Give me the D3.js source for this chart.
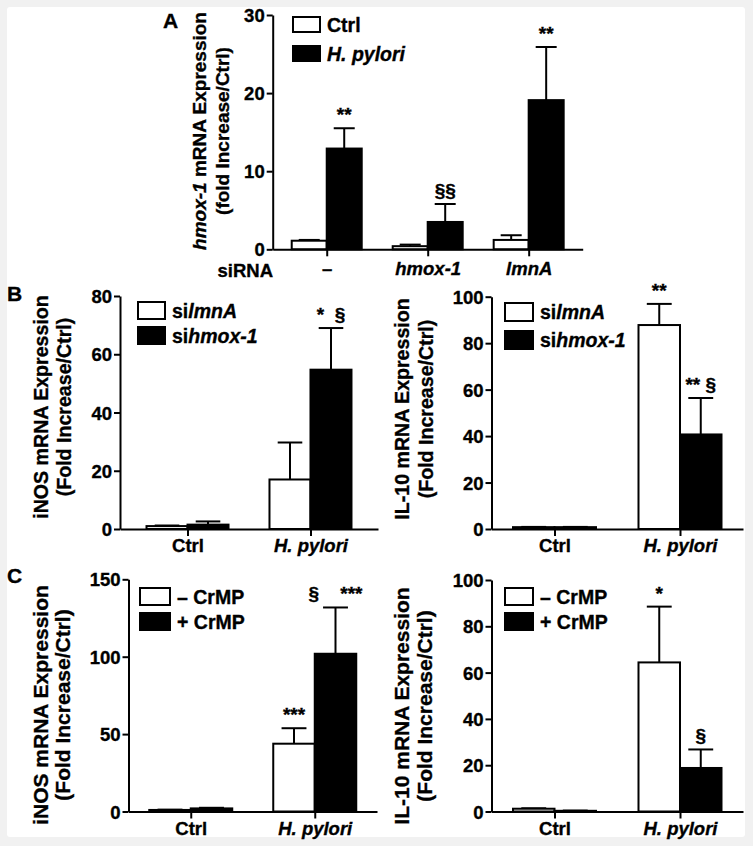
<!DOCTYPE html>
<html>
<head>
<meta charset="utf-8">
<script src="https://cdn.jsdelivr.net/npm/d3@7"></script>
<style>
  html, body { margin: 0; padding: 0; background: #f1f1f1; }
  svg { display: block; }
  text { font-family: 'Liberation Sans', Arial, Helvetica, sans-serif; font-weight: bold; fill: #000;
         stroke: #000; stroke-width: 0.35px; }
</style>
</head>
<body>
<svg id="chart" width="753" height="846"></svg>
<script>
// ---------------- DATA ----------------
// Panel A: hmox-1 mRNA expression by siRNA
const groupsA = ["\u2013", "hmox-1", "lmnA"];
const ctrlA = [1.1, 0.4, 1.2];
const ctrlA_sem = [0.1, 0.2, 0.6];
const hpyloriA = [12.9, 3.5, 19.1];
const hpyloriA_sem = [2.6, 2.3, 6.8];
const ticksA = [0, 10, 20, 30];

// Panels B and C: categories
const groupsBC = ["Ctrl", "H. pylori"];

// Panel B left: iNOS
const inosB_silmnA = [1.0, 17.0];
const inosB_silmnA_sem = [0.2, 12.7];
const inosB_sihmox = [1.5, 54.7];
const inosB_sihmox_sem = [1.1, 14.3];
const ticksInosB = [0, 20, 40, 60, 80];

// Panel B right: IL-10
const il10B_silmnA = [0.8, 87.8];
const il10B_silmnA_sem = [0.1, 9.1];
const il10B_sihmox = [0.8, 40.7];
const il10B_sihmox_sem = [0.1, 15.7];
const ticksIl10 = [0, 20, 40, 60, 80, 100];

// Panel C left: iNOS with/without CrMP
const inosC_minus = [1.0, 43.8];
const inosC_minus_sem = [0.2, 10.0];
const inosC_plus = [2.0, 101.9];
const inosC_plus_sem = [0.4, 29.9];
const ticksInosC = [0, 50, 100, 150];

// Panel C right: IL-10 with/without CrMP
const il10C_minus = [1.2, 64.4];
const il10C_minus_sem = [0.2, 24.1];
const il10C_plus = [0.3, 18.8];
const il10C_plus_sem = [0.1, 8.0];

// ---------------- DRAWING ----------------
const svg = d3.select("#chart");
svg.append("rect").attr("x", 7).attr("y", 7).attr("width", 738).attr("height", 830)
  .attr("rx", 3).attr("fill", "#ffffff");

const NB = "\u00a0";

function italicLabel(sel, parts) {
  parts.forEach(p => sel.append("tspan").attr("font-style", p.i ? "italic" : "normal").text(p.t));
}

function drawPanel(cfg) {
  const g = svg.append("g");
  const x = d3.scalePoint().domain(cfg.groups).range([cfg.xL, cfg.xR]).padding(cfg.pad);
  const y = d3.scaleLinear().domain([0, cfg.yMax]).range([cfg.yB, cfg.yT]);
  const bw = cfg.barW;

  // y axis
  const ya = g.append("g").attr("transform", `translate(${cfg.xL},0)`)
    .call(d3.axisLeft(y).tickValues(cfg.ticks).tickSize(6).tickSizeOuter(0).tickPadding(2));
  ya.attr("font-size", null).attr("font-family", null);
  ya.selectAll("path.domain, .tick line").attr("stroke", "#000").attr("stroke-width", 2);
  ya.selectAll(".tick text").attr("font-size", cfg.tickFont).attr("dy", "0.36em");

  // bars with upper error bars
  cfg.series.forEach((s, si) => {
    const off = si === 0 ? -bw : 0;
    cfg.groups.forEach((grp, gi) => {
      const v = s.values[gi];
      const top = y(v);
      const cx = x(grp) + off + bw / 2;
      const et = y(v + s.sem[gi]);
      g.append("line").attr("x1", cx).attr("x2", cx).attr("y1", top).attr("y2", et)
        .attr("stroke", "#000").attr("stroke-width", 2);
      g.append("line").attr("x1", cx - bw * 0.3).attr("x2", cx + bw * 0.3).attr("y1", et).attr("y2", et)
        .attr("stroke", "#000").attr("stroke-width", 2);
      g.append("rect").attr("x", x(grp) + off).attr("y", top)
        .attr("width", bw).attr("height", Math.max(0, y(0) - top))
        .attr("fill", s.fill).attr("stroke", "#000").attr("stroke-width", 2);
    });
  });

  // x axis
  const xa = g.append("g").attr("transform", `translate(0,${cfg.yB})`)
    .call(d3.axisBottom(x).tickSize(7).tickSizeOuter(0).tickPadding(cfg.xPad));
  xa.attr("font-size", null).attr("font-family", null);
  xa.selectAll("path.domain, .tick line").attr("stroke", "#000").attr("stroke-width", 2);
  xa.selectAll(".tick text").attr("font-size", cfg.tickFont)
    .attr("font-style", d => cfg.italicGroups.includes(d) ? "italic" : "normal");

  if (cfg.xTitle) {
    g.append("text").attr("x", cfg.xTitle.x).attr("y", cfg.yB + cfg.xPad + 9 + cfg.tickFont * 0.71)
      .attr("text-anchor", "end").attr("font-size", cfg.tickFont).text(cfg.xTitle.text);
  }

  // significance annotations
  cfg.annotations.forEach(a => {
    const s = cfg.series[a.series];
    const gi = cfg.groups.indexOf(a.group);
    const off = a.series === 0 ? -bw : 0;
    const cx = x(a.group) + off + bw / 2;
    g.append("text").attr("x", cx).attr("y", y(s.values[gi] + s.sem[gi]) - 7)
      .attr("text-anchor", "middle").attr("font-size", cfg.annFont)
      .style("white-space", "pre").text(a.text);
  });

  // legend
  cfg.series.forEach((s, si) => {
    const ly = cfg.legend.y + si * cfg.legend.dy;
    g.append("rect").attr("x", cfg.legend.x).attr("y", ly)
      .attr("width", cfg.legend.w).attr("height", cfg.legend.h)
      .attr("fill", s.fill).attr("stroke", "#000").attr("stroke-width", 2);
    const t = g.append("text").attr("x", cfg.legend.x + cfg.legend.w + 7)
      .attr("y", ly + cfg.legend.h / 2).attr("dy", "0.36em").attr("font-size", cfg.legendFont);
    italicLabel(t, s.label);
  });

  // y title (two lines, rotated)
  cfg.yTitle.lines.forEach((ln, li) => {
    const t = g.append("text")
      .attr("transform", `translate(${cfg.yTitle.x[li]},${cfg.yTitle.cy}) rotate(-90)`)
      .attr("text-anchor", "middle").attr("font-size", cfg.yTitle.font);
    italicLabel(t, ln);
  });

  if (cfg.letter) {
    g.append("text").attr("x", cfg.letter.x).attr("y", cfg.letter.y)
      .attr("font-size", 21).text(cfg.letter.t);
  }
}

const WHITE = "#ffffff", BLACK = "#000000";

// Panel A
drawPanel({
  groups: groupsA, italicGroups: ["hmox-1", "lmnA"],
  xL: 272.7, xR: 582.7, pad: 0.535, barW: 35,
  yB: 249.3, yT: 15, yMax: 30, ticks: ticksA, tickFont: 18.5, xPad: 6, annFont: 19,
  series: [
    { values: ctrlA, sem: ctrlA_sem, fill: WHITE, label: [{ t: "Ctrl" }] },
    { values: hpyloriA, sem: hpyloriA_sem, fill: BLACK, label: [{ t: "H. pylori", i: true }] }
  ],
  annotations: [
    { group: "\u2013", series: 1, text: "**" },
    { group: "hmox-1", series: 1, text: "\u00a7\u00a7" },
    { group: "lmnA", series: 1, text: "**" }
  ],
  xTitle: { x: 273, text: "siRNA" },
  legend: { x: 293, y: 17, dy: 29, w: 27, h: 15 },
  legendFont: 19.5,
  yTitle: { x: [205.5, 228.5], cy: 131, font: 19, lines: [
    [{ t: "hmox-1", i: true }, { t: " mRNA Expression" }],
    [{ t: "(fold Increase/Ctrl)" }]
  ] },
  letter: { x: 163, y: 28, t: "A" }
});

// Panel B left
drawPanel({
  groups: groupsBC, italicGroups: ["H. pylori"],
  xL: 120, xR: 378, pad: 0.549, barW: 41,
  yB: 529, yT: 296, yMax: 80, ticks: ticksInosB, tickFont: 18.5, xPad: 3, annFont: 19,
  series: [
    { values: inosB_silmnA, sem: inosB_silmnA_sem, fill: WHITE, label: [{ t: "si" }, { t: "lmnA", i: true }] },
    { values: inosB_sihmox, sem: inosB_sihmox_sem, fill: BLACK, label: [{ t: "si" }, { t: "hmox-1", i: true }] }
  ],
  annotations: [
    { group: "H. pylori", series: 1, text: "*" + NB + NB + "\u00a7" }
  ],
  legend: { x: 138, y: 302, dy: 25, w: 27, h: 17 },
  legendFont: 19.5,
  yTitle: { x: [47.5, 70.5], cy: 407, font: 19.6, lines: [
    [{ t: "iNOS mRNA Expression" }],
    [{ t: "(Fold Increase/Ctrl)" }]
  ] },
  letter: { x: 7, y: 301, t: "B" }
});

// Panel B right
drawPanel({
  groups: groupsBC, italicGroups: ["H. pylori"],
  xL: 491.5, xR: 743, pad: 0.502, barW: 41.5,
  yB: 529, yT: 296.7, yMax: 100, ticks: ticksIl10, tickFont: 18.5, xPad: 3, annFont: 19,
  series: [
    { values: il10B_silmnA, sem: il10B_silmnA_sem, fill: WHITE, label: [{ t: "si" }, { t: "lmnA", i: true }] },
    { values: il10B_sihmox, sem: il10B_sihmox_sem, fill: BLACK, label: [{ t: "si" }, { t: "hmox-1", i: true }] }
  ],
  annotations: [
    { group: "H. pylori", series: 0, text: "**" },
    { group: "H. pylori", series: 1, text: "**" + NB + "\u00a7" }
  ],
  legend: { x: 505, y: 303, dy: 28, w: 28, h: 18 },
  legendFont: 19.5,
  yTitle: { x: [408.5, 432.5], cy: 409, font: 19.6, lines: [
    [{ t: "IL-10 mRNA Expression" }],
    [{ t: "(Fold Increase/Ctrl)" }]
  ] }
});

// Panel C left
drawPanel({
  groups: groupsBC, italicGroups: ["H. pylori"],
  xL: 128.5, xR: 377, pad: 0.502, barW: 41.5,
  yB: 811.5, yT: 579.3, yMax: 150, ticks: ticksInosC, tickFont: 18.5, xPad: 3, annFont: 19,
  series: [
    { values: inosC_minus, sem: inosC_minus_sem, fill: WHITE, label: [{ t: "\u2013 CrMP" }] },
    { values: inosC_plus, sem: inosC_plus_sem, fill: BLACK, label: [{ t: "+ CrMP" }] }
  ],
  annotations: [
    { group: "H. pylori", series: 0, text: "***" },
    { group: "H. pylori", series: 1, text: "\u00a7" + NB + NB + NB + NB + "***" }
  ],
  legend: { x: 140, y: 588, dy: 25, w: 30, h: 17 },
  legendFont: 19.5,
  yTitle: { x: [48, 70], cy: 705, font: 21, lines: [
    [{ t: "iNOS mRNA Expression" }],
    [{ t: "(Fold Increase/Ctrl)" }]
  ] },
  letter: { x: 7, y: 583, t: "C" }
});

// Panel C right
drawPanel({
  groups: groupsBC, italicGroups: ["H. pylori"],
  xL: 491.5, xR: 743, pad: 0.502, barW: 41.5,
  yB: 811.5, yT: 580, yMax: 100, ticks: ticksIl10, tickFont: 18.5, xPad: 3, annFont: 19,
  series: [
    { values: il10C_minus, sem: il10C_minus_sem, fill: WHITE, label: [{ t: "\u2013 CrMP" }] },
    { values: il10C_plus, sem: il10C_plus_sem, fill: BLACK, label: [{ t: "+ CrMP" }] }
  ],
  annotations: [
    { group: "H. pylori", series: 0, text: "*" },
    { group: "H. pylori", series: 1, text: "\u00a7" }
  ],
  legend: { x: 505, y: 588, dy: 25, w: 28, h: 17 },
  legendFont: 19.5,
  yTitle: { x: [408.5, 432], cy: 706, font: 21, lines: [
    [{ t: "IL-10 mRNA Expression" }],
    [{ t: "(Fold Increase/Ctrl)" }]
  ] }
});
</script>
</body>
</html>
